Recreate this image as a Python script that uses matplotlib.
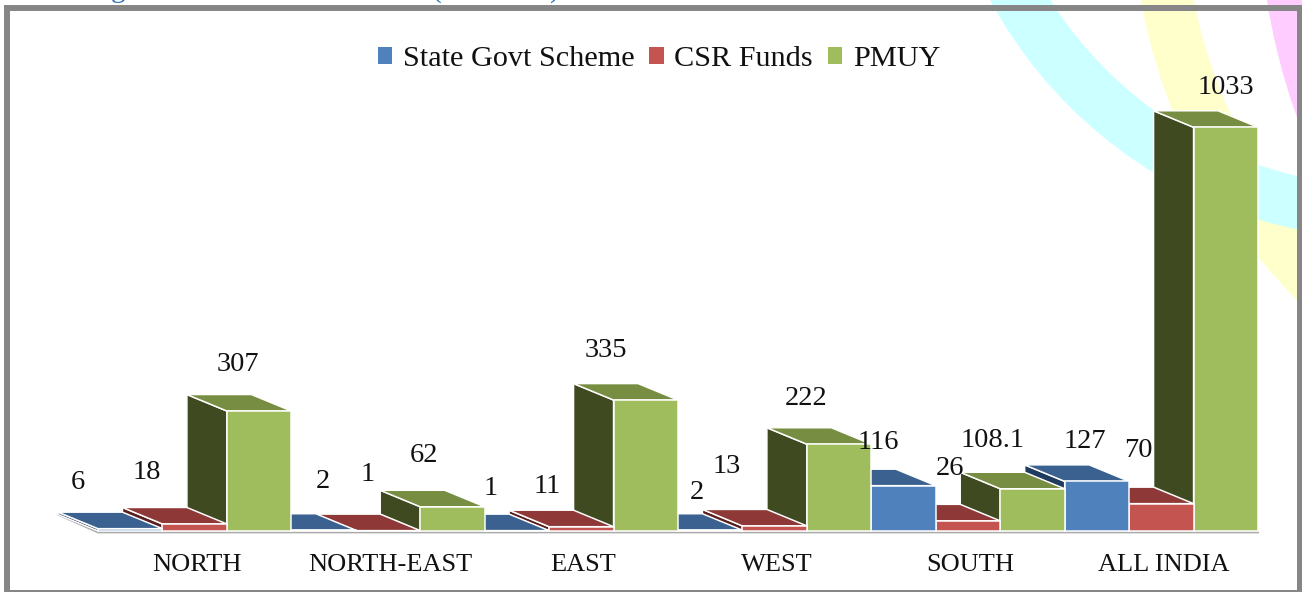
import matplotlib
matplotlib.use("Agg")
import matplotlib.pyplot as plt
from matplotlib.patches import Arc, Rectangle, Patch

regions = ["NORTH", "NORTH-EAST", "EAST", "WEST", "SOUTH", "ALL INDIA"]
state_govt = [6, 2, 1, 2, 116, 127]
csr_funds = [18, 1, 11, 13, 26, 70]
pmuy = [307, 62, 335, 222, 108.1, 1033]

series_names = ["State Govt Scheme", "CSR Funds", "PMUY"]
front_colors = ["#4F81BD", "#C4544F", "#A0BD5D"]
top_colors = ["#3A618F", "#8E3937", "#778D41"]
side_colors = ["#1F3A5F", "#5A1F1E", "#3F4A20"]

# label offsets from the front top centre of each bar, in pixels (x, up)
state_off = [(-52, 46), (-1, 49), (-26, 42), (-13, 38), (-25, 43), (-12, 40)]
csr_off = [(-48, 51), (-20, 56), (-34, 40), (-48, 59), (-18, 52), (-23, 53)]
pmuy_off = [(-21, 47), (-28, 51), (-40, 50), (-33, 46), (-40, 48), (0, 40)]

W, H = 1302, 592
DPI = 100
PT = 72 / DPI  # points per pixel

plt.rcParams["font.family"] = ["Liberation Serif", "DejaVu Serif"]
fig = plt.figure(figsize=(W / DPI, H / DPI), dpi=DPI, facecolor="white")

# background swooshes and frame, in pixel coordinates
bg = fig.add_axes([0, 0, 1, 1], zorder=0)
bg.set_xlim(0, W)
bg.set_ylim(H, 0)
bg.axis("off")
for cx, cy, r, color in [(1900, -100, 615, "#FFCCFF"),
                         (1700, -100, 542, "#FFFFCC"),
                         (1390, -215, 428, "#CCFFFF")]:
    bg.add_patch(Arc((cx, cy), 2 * r, 2 * r, color=color, lw=52 * PT))
bg.add_patch(Rectangle((7, 8), 1293, 585, fill=False, ec="#868686", lw=6 * PT))
bg.text(118, -3, "g", color="#2E74B5", fontsize=21, ha="center", va="baseline")
bg.text(437, -3, "(", color="#2E74B5", fontsize=21, ha="center", va="baseline")
bg.text(555, -3, ")", color="#2E74B5", fontsize=21, ha="center", va="baseline")

# main chart: 1 x unit = one region, y in units of the chart
ax = fig.add_axes([98 / W, (H - 531) / H, 1160 / W, 469 / H], zorder=1)
ax.patch.set_alpha(0)
ax.set_xlim(0, 6)
ax.set_ylim(0, 1200)
for s in ax.spines.values():
    s.set_visible(False)
ax.set_yticks([])
ax.set_xticks([i + 0.51 for i in range(6)])
ax.set_xticklabels(regions, fontsize=19, color="#111111")
ax.tick_params(axis="x", length=0, pad=16.5)

bar_w = 1 / 3
dx = -40 / (1160 / 6)
dy = 16.5 / (469 / 1200)

# floor edge
ax.plot([dx, 0, 6], [dy, -3.5, -3.5], color="#ABABAB", lw=2 * PT, clip_on=False, zorder=1)

series = [state_govt, csr_funds, pmuy]
offsets = [state_off, csr_off, pmuy_off]

# right to left, because the left bars stand in front of the side faces
z = 2
for i in range(5, -1, -1):
    for s in range(2, -1, -1):
        v = series[s][i]
        x0 = i + s * bar_w
        x1 = x0 + bar_w
        ax.fill([x0, x0, x0 + dx, x0 + dx], [0, v, v + dy, dy], fc=side_colors[s],
                ec="white", lw=1.5 * PT, clip_on=False, zorder=z)
        ax.fill([x0, x1, x1 + dx, x0 + dx], [v, v, v + dy, v + dy], fc=top_colors[s],
                ec="white", lw=1.5 * PT, clip_on=False, zorder=z + 1)
        ax.bar(x0, v, bar_w, align="edge", color=front_colors[s], ec="white",
               lw=1.5 * PT, clip_on=False, zorder=z + 2)
        z += 3

for s in range(3):
    for i in range(6):
        v = series[s][i]
        ox, oy = offsets[s][i]
        ax.annotate(str(v), (i + (s + 0.5) * bar_w, v), xytext=(ox * PT, oy * PT),
                    textcoords="offset points", ha="center", va="center",
                    fontsize=20.5, color="#111111", zorder=100, annotation_clip=False)

handles = [Patch(fc=c, ec="none") for c in front_colors]
fig.legend(handles, series_names, ncol=3, loc="center", bbox_to_anchor=(659 / W, 1 - 59 / H),
           frameon=False, fontsize=21.8, handlelength=0.47, handleheight=0.47,
           handletextpad=0.35, columnspacing=0.5, labelcolor="#111111")

fig.savefig("out.png", dpi=DPI)
